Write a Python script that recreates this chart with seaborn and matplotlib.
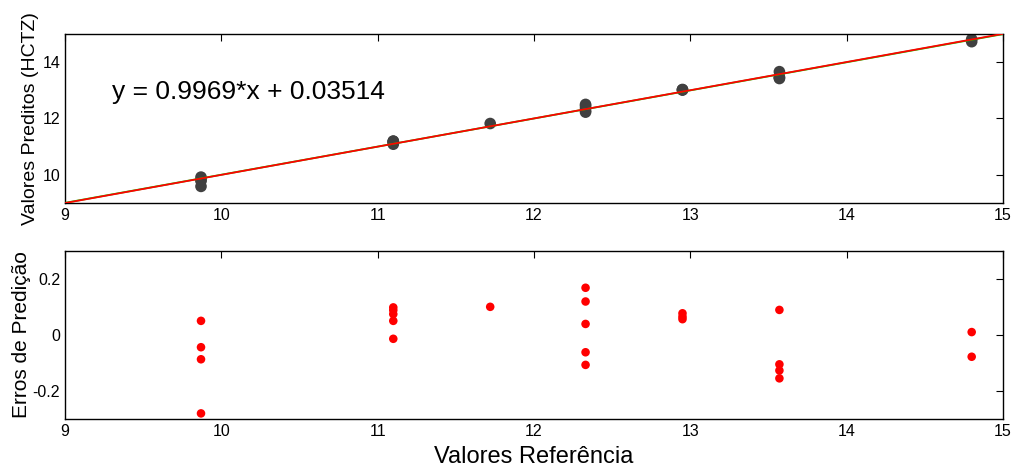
import numpy as np
import pandas as pd
import matplotlib
matplotlib.use("Agg")
import matplotlib.pyplot as plt
import seaborn as sns

# reference concentrations and prediction errors
referencia = [9.87, 9.87, 9.87, 9.87,
              11.10, 11.10, 11.10, 11.10, 11.10,
              11.72,
              12.33, 12.33, 12.33, 12.33, 12.33,
              12.95, 12.95, 12.95,
              13.57, 13.57, 13.57, 13.57,
              14.80, 14.80]
erros = [0.050, -0.044, -0.087, -0.280,
         0.098, 0.088, 0.074, 0.050, -0.014,
         0.100,
         0.168, 0.119, 0.039, -0.062, -0.107,
         0.077, 0.065, 0.056,
         0.089, -0.105, -0.127, -0.155,
         0.010, -0.078]
slope, intercept = 0.9969, 0.03514
line_x = [9, 15]

df = pd.DataFrame({"ref": referencia, "err": erros})
df["pred"] = df["ref"] + df["err"]
fit = pd.DataFrame({"x": line_x})
fit["fit"] = slope * fit["x"] + intercept
fit["ident"] = fit["x"]

sns.set_style("white")
plt.rcParams["font.family"] = ["Liberation Sans", "DejaVu Sans"]
plt.rcParams["axes.unicode_minus"] = False
plt.rcParams["text.color"] = "black"
plt.rcParams["axes.labelcolor"] = "black"

fig = plt.figure(figsize=(10.14, 4.70), dpi=100)
ax1 = fig.add_axes([0.0641, 0.568, 0.925, 0.360])
ax2 = fig.add_axes([0.0641, 0.1085, 0.925, 0.358])

sns.scatterplot(data=df, x="ref", y="pred", ax=ax1, color="#404040", s=70,
                edgecolor="none", zorder=2)
sns.lineplot(data=fit, x="x", y="fit", ax=ax1, color="#00dd00", lw=1.3, zorder=3)
sns.lineplot(data=fit, x="x", y="ident", ax=ax1, color="red", lw=1.3, zorder=4)
ax1.text(9.3, 12.92, "y = 0.9969*x + 0.03514", fontsize=19, va="center")
ax1.set_xlim(9, 15)
ax1.set_ylim(9, 15)
ax1.set_yticks([10, 12, 14])
ax1.set_xlabel("")
ax1.set_ylabel("Valores Preditos (HCTZ)", fontsize=14, labelpad=2)

sns.scatterplot(data=df, x="ref", y="err", ax=ax2, color="red", s=38,
                edgecolor="none")
ax2.set_xlim(9, 15)
ax2.set_ylim(-0.3, 0.3)
ax2.set_yticks([-0.2, 0, 0.2])
ax2.set_yticklabels(["-0.2", "0", "0.2"])
ax2.set_xlabel("Valores Referência", fontsize=17, labelpad=5)
ax2.set_ylabel("Erros de Predição", fontsize=15, labelpad=1)

for ax in (ax1, ax2):
    ax.set_xticks(range(9, 16))
    ax.tick_params(direction="in", top=True, right=True, length=5,
                   width=0.8, labelsize=11.5, colors="black")
    for sp in ax.spines.values():
        sp.set_visible(True)
        sp.set_color("black")
        sp.set_linewidth(1.0)

fig.savefig("out.png", dpi=100)
